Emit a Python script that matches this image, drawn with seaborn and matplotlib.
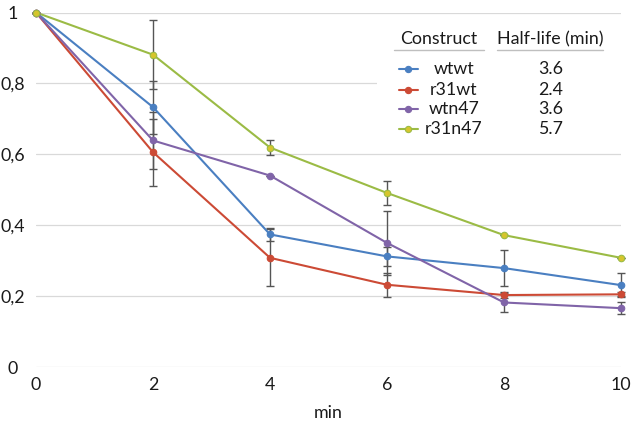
import numpy as np
import pandas as pd
import seaborn as sns
import matplotlib.pyplot as plt
from matplotlib.lines import Line2D

# ===============================
# 1. DATA
# ===============================
minutes = [0, 2, 4, 6, 8, 10]
constructs = ["wtwt", "r31wt", "wtn47", "r31n47"]
half_lives = ["3.6", "2.4", "3.6", "5.7"]

wtwt = [1.0, 0.733, 0.374, 0.312, 0.279, 0.231]
r31wt = [1.0, 0.606, 0.308, 0.232, 0.203, 0.205]
wtn47 = [1.0, 0.639, 0.540, 0.350, 0.182, 0.166]
r31n47 = [1.0, 0.881, 0.619, 0.491, 0.372, 0.308]

wtwt_err = [0, 0.075, 0.018, 0.026, 0.051, 0.033]
r31wt_err = [0, 0.095, 0.080, 0.034, 0.008, 0.006]
wtn47_err = [0, 0.080, 0, 0.090, 0.026, 0.016]
r31n47_err = [0, 0.097, 0.022, 0.035, 0, 0]

x_ticks = [0, 2, 4, 6, 8, 10]
y_ticks = [0, 0.2, 0.4, 0.6, 0.8, 1.0]
y_tick_labels = ["0", "0,2", "0,4", "0,6", "0,8", "1"]

values = [wtwt, r31wt, wtn47, r31n47]
errors = [wtwt_err, r31wt_err, wtn47_err, r31n47_err]

df = pd.DataFrame({
    "min": minutes * len(constructs),
    "value": sum(values, []),
    "construct": np.repeat(constructs, len(minutes)),
})

colors = ["#4a7fc1", "#cc4a35", "#8064a8", "#9bbb45"]
face_colors = ["#4a7fc1", "#cc4a35", "#8064a8", "#d6c52c"]
text_color = "#1a1a1a"
fs = 12.8

# ===============================
# 2. PLOT
# ===============================
sns.set_style("white")
plt.rcParams["font.family"] = ["Lato", "DejaVu Sans"]

fig = plt.figure(figsize=(6.33, 4.24), dpi=100)
ax = fig.add_axes([0.0569, 0.1344, 0.9242, 0.8361])

# error bars first (under the lines)
for vals, errs in zip(values, errors):
    ax.errorbar(minutes, vals, yerr=errs, fmt="none", ecolor="#555555",
                elinewidth=1, capsize=3, capthick=1, zorder=2, clip_on=False)

sns.lineplot(data=df, x="min", y="value", hue="construct", hue_order=constructs,
             palette=colors, linewidth=1.5, legend=False, ax=ax, zorder=3)

for vals, c, fc in zip(values, colors, face_colors):
    ax.scatter(minutes, vals, s=22, color=fc, edgecolor=c, linewidth=0.8,
               zorder=4, clip_on=False)

for line in ax.get_lines():
    line.set_clip_on(False)

ax.set_xlim(0, 10)
ax.set_ylim(0, 1)
ax.set_xticks(x_ticks)
ax.set_yticks(y_ticks)
ax.set_yticklabels(y_tick_labels)
ax.grid(axis="y", color="#d9d9d9", linewidth=0.9, zorder=0)
ax.set_axisbelow(True)
sns.despine(ax=ax, left=True, bottom=True, top=True, right=True)

ax.tick_params(axis="x", length=0, pad=7, labelsize=fs, colors=text_color)
ax.tick_params(axis="y", length=0, pad=16.5, labelsize=fs, colors=text_color)
for lab in ax.get_yticklabels():
    lab.set_horizontalalignment("center")

ax.set_xlabel("min", fontsize=fs, labelpad=9, color=text_color)
ax.set_ylabel("")

# ===============================
# 3. LEGEND TABLE
# ===============================
ax.add_patch(plt.Rectangle((0.583, 0.618), 0.417, 0.366, transform=ax.transAxes,
                           facecolor="white", edgecolor="none", zorder=1))

ax.text(0.689, 0.924, "Construct", transform=ax.transAxes, ha="center",
        va="center", fontsize=fs, color=text_color, zorder=5)
ax.text(0.879, 0.924, "Half-life (min)", transform=ax.transAxes, ha="center",
        va="center", fontsize=fs, color=text_color, zorder=5)
ax.add_line(Line2D([0.612, 0.766], [0.894, 0.894], transform=ax.transAxes,
                   color="#bfbfbf", linewidth=1, zorder=5))
ax.add_line(Line2D([0.7875, 0.970], [0.894, 0.894], transform=ax.transAxes,
                   color="#bfbfbf", linewidth=1, zorder=5))

row_y = [0.840, 0.782, 0.727, 0.670]
for name, hl, c, fc, ry in zip(constructs, half_lives, colors, face_colors, row_y):
    ax.add_line(Line2D([0.6205, 0.6535], [ry, ry], transform=ax.transAxes,
                       color=c, linewidth=1.5, zorder=5))
    ax.add_line(Line2D([0.636], [ry], transform=ax.transAxes, marker="o",
                       markersize=4.5, markerfacecolor=fc, markeredgecolor=c,
                       markeredgewidth=0.8, linestyle="none", zorder=6))
    ax.text(0.7145, ry, name, transform=ax.transAxes, ha="center", va="center",
            fontsize=fs, color=text_color, zorder=5)
    ax.text(0.879, ry, hl, transform=ax.transAxes, ha="center", va="center",
            fontsize=fs, color=text_color, zorder=5)

fig.savefig("out.png", dpi=100)
